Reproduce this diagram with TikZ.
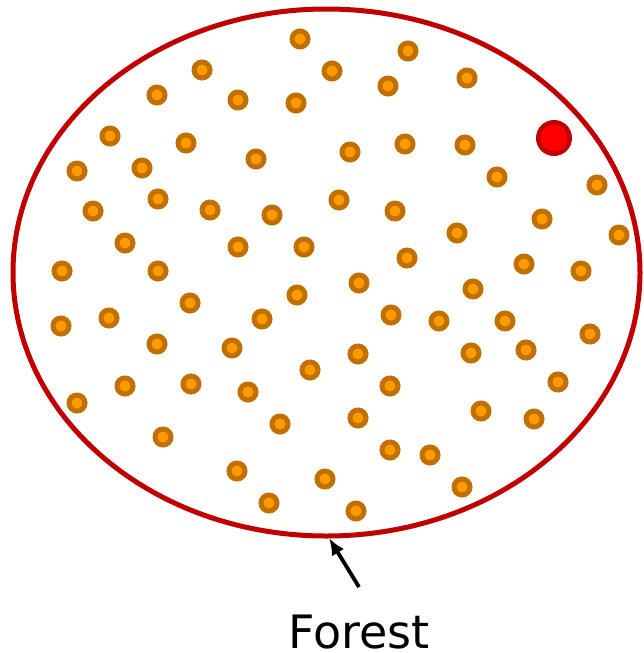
\documentclass[tikz,border=0pt]{standalone}
\usepackage{fontspec}
\setmainfont{DejaVu Sans}
\usetikzlibrary{shapes.geometric,arrows.meta}
\definecolor{ringc}{HTML}{C07000}
\definecolor{fillc}{HTML}{FF9900}
\definecolor{darkred}{HTML}{C00000}
\begin{document}
\begin{tikzpicture}[x=1pt,y=-1pt,
  tree/.style={circle,draw=ringc,fill=fillc,line width=5pt,minimum size=16pt,inner sep=0pt},
  special/.style={circle,draw=darkred,fill=red,line width=4.5pt,minimum size=31.5pt,inner sep=0pt},
  forestbox/.style={ellipse,draw=darkred,line width=5pt,minimum width=627pt,minimum height=527pt,inner sep=0pt},
  pointer/.style={-{Latex[length=17pt,width=14pt]},line width=3.8pt,black},
  labeltext/.style={font=\fontsize{46}{50}\selectfont,inner sep=0pt,anchor=base}]
\useasboundingbox (0,0) rectangle (643,653);
\node[forestbox] (forest) at (326.5,272.5) {};
\foreach [count=\i] \x/\y in {
 300/39, 408/51, 202/70, 332/71, 467/78, 157/95, 238/100, 296/103, 388/86,
 110/136, 186/143, 142/168, 77/171, 256/159, 350/152, 405/144, 465/145,
 497/177, 597/185, 93/211, 158/199, 210/210, 272/215, 339/200, 395/211,
 542/219, 619/235, 125/243, 238/247, 304/247, 457/233, 407/258, 62/271,
 158/271, 524/264, 581/271, 190/303, 297/295, 359/283, 473/289, 61/326,
 109/318, 262/319, 391/315, 439/321, 505/321, 590/334, 157/344, 232/348,
 358/354, 471/353, 526/350, 310/370, 125/386, 191/384, 248/392, 390/386,
 558/382, 77/403, 280/424, 358/418, 481/411, 534/419, 163/437, 390/450,
 430/455, 237/471, 325/479, 462/487, 269/503, 356/511}
  \node[tree] (t\i) at (\x,\y) {};
\node[special] (target) at (554,138) {};
\node[labeltext] (label) at (359,648) {Forest};
\coordinate (tail) at (359,587);
\coordinate (tip) at (329,538);
\draw[pointer] (tail) -- (tip);
\end{tikzpicture}
\end{document}
